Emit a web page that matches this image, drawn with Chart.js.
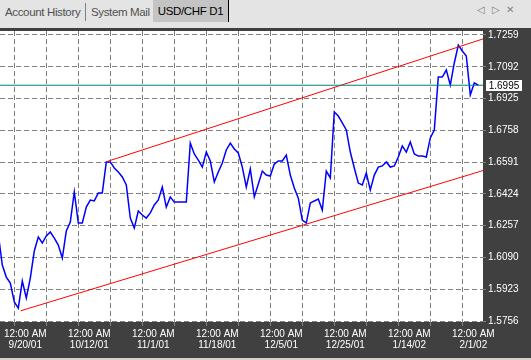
<!DOCTYPE html>
<html><head><meta charset="utf-8">
<script src="https://cdn.jsdelivr.net/npm/chart.js@4.4.0/dist/chart.umd.min.js"></script>
<style>
html,body{margin:0;padding:0;background:#d4d0c8;width:531px;height:360px;overflow:hidden;font-family:"Liberation Sans",Arial,sans-serif;}
#tabs{position:absolute;left:0;top:0;width:531px;height:28px;background:#e4e4e4;}
.tab{position:absolute;top:2px;height:20px;line-height:20px;font-size:11.5px;letter-spacing:-0.35px;color:#505050;white-space:nowrap;}
#t1{left:5px;}
#sep{position:absolute;left:85px;top:3px;width:1px;height:18px;background:#808080;}
#t2{left:91px;}
#t3{left:153px;width:75px;top:0px;height:22px;line-height:22px;background:#c4c4c4;color:#000;text-align:center;border-right:1px solid #000;}
.ctl{position:absolute;top:4px;font-family:"DejaVu Sans",sans-serif;font-size:10px;color:#808080;}
#wrap{position:absolute;left:0;top:28px;width:531px;height:330px;}
</style></head><body>
<div id="tabs">
  <div class="tab" id="t1">Account History</div>
  <div id="sep"></div>
  <div class="tab" id="t2">System Mail</div>
  <div class="tab" id="t3">USD/CHF D1</div>
  <div class="ctl" style="left:477px">◁</div>
  <div class="ctl" style="left:492px">▷</div>
  <div class="ctl" style="left:506px">✕</div>
</div>
<div id="wrap"><canvas id="c" width="531" height="330"></canvas></div>
<script>
// Daily closes, USD/CHF D1 (bar 0 is just left of the visible window)
const closes = [
  1.6213,
  1.6050, 1.5987, 1.5956, 1.5856, 1.5824, 1.5966, 1.5877, 1.5982, 1.6124, 1.6198,
  1.6166, 1.6203, 1.6224, 1.6192, 1.6155, 1.6087, 1.6229, 1.6276, 1.6434, 1.6271,
  1.6271, 1.6355, 1.6392, 1.6387, 1.6429, 1.6429, 1.6592, 1.6592, 1.6560, 1.6539,
  1.6513, 1.6471, 1.6297, 1.6245, 1.6334, 1.6313, 1.6297, 1.6324, 1.6366, 1.6392,
  1.6460, 1.6355, 1.6408, 1.6381, 1.6381, 1.6381, 1.6381, 1.6691, 1.6634, 1.6602,
  1.6565, 1.6644, 1.6597, 1.6487, 1.6539, 1.6586, 1.6655, 1.6691, 1.6660, 1.6639,
  1.6565, 1.6460, 1.6555, 1.6408, 1.6476, 1.6544, 1.6523, 1.6518, 1.6581, 1.6597,
  1.6597, 1.6628, 1.6523, 1.6455, 1.6402, 1.6287, 1.6271, 1.6376, 1.6387, 1.6397,
  1.6339, 1.6544, 1.6508, 1.6854, 1.6833, 1.6797, 1.6760, 1.6644, 1.6560, 1.6481,
  1.6471, 1.6534, 1.6445, 1.6523, 1.6565, 1.6571, 1.6592, 1.6565, 1.6571, 1.6618,
  1.6676, 1.6644, 1.6697, 1.6634, 1.6623, 1.6623, 1.6618, 1.6718, 1.6760, 1.7038,
  1.7038, 1.7075, 1.6996, 1.7112, 1.7206, 1.7175, 1.7149, 1.6944, 1.7007, 1.6995
];
const gridBars = [4, 12, 20, 28, 36, 44, 52, 60, 68, 76, 84, 92, 100, 108, 116];
const labelBars = [4, 20, 36, 52, 68, 84, 100, 116];
const timeLabels = ['9/20/01', '10/12/01', '11/1/01', '11/18/01', '12/5/01', '12/25/01', '1/14/02', '2/1/02'];
const timeOfDay = '12:00 AM';
const priceTicks = [1.5756, 1.5923, 1.6090, 1.6257, 1.6424, 1.6591, 1.6758, 1.6925, 1.7092, 1.7259];
const currentPrice = 1.6995;
const upperChannelBars = [27, 122];
const upperChannelPrices = [1.6593, 1.7244];
const lowerChannelBars = [5.6, 122];
const lowerChannelPrices = [1.5810, 1.6552];

const xMin = 0.425, xMax = 121.175;
const yMin = 1.5751, yMax = 1.7280;
const FONT = "'Liberation Sans',Arial,sans-serif";

const bgPlugin = {
  id: 'bg',
  beforeDraw(chart) {
    const {ctx, chartArea: a} = chart;
    ctx.save();
    ctx.fillStyle = '#404040';
    ctx.fillRect(0, 0, chart.width, chart.height);
    ctx.fillStyle = '#ffffff';
    ctx.fillRect(a.left, a.top, a.right - a.left, a.bottom - a.top);
    ctx.restore();
  },
  afterDraw(chart) {
    const {ctx, chartArea: a} = chart;
    const py = Math.round(chart.scales.y.getPixelForValue(currentPrice));
    ctx.save();
    ctx.fillStyle = '#ffffff';
    ctx.fillRect(a.right + 3, py - 5, 36, 11);
    ctx.fillStyle = '#000000';
    ctx.font = "10px " + FONT;
    ctx.textAlign = 'center';
    ctx.textBaseline = 'middle';
    ctx.fillText(currentPrice.toFixed(4), a.right + 21, py + 1);
    ctx.restore();
  }
};

new Chart(document.getElementById('c'), {
  type: 'line',
  data: {
    datasets: [
      { data: [{x: xMin, y: currentPrice}, {x: xMax, y: currentPrice}], borderColor: '#008080', borderWidth: 1, pointRadius: 0 },
      { data: upperChannelBars.map((b, i) => ({x: b, y: upperChannelPrices[i]})), borderColor: '#ff0000', borderWidth: 1, pointRadius: 0 },
      { data: lowerChannelBars.map((b, i) => ({x: b, y: lowerChannelPrices[i]})), borderColor: '#ff0000', borderWidth: 1, pointRadius: 0 },
      { data: closes.map((c, i) => ({x: i, y: c})), borderColor: '#0000ff', borderWidth: 1.5, pointRadius: 0, tension: 0 }
    ]
  },
  options: {
    responsive: false, animation: false, devicePixelRatio: 1,
    layout: { padding: { top: 3, left: 0, right: 0, bottom: 0 } },
    plugins: { legend: { display: false }, tooltip: { enabled: false } },
    scales: {
      x: {
        type: 'linear', position: 'bottom', min: xMin, max: xMax,
        afterBuildTicks: s => { s.ticks = gridBars.map(v => ({ value: v })); },
        afterFit: s => { s.height = 36; s.paddingLeft = 0; s.paddingRight = 0; },
        ticks: {
          autoSkip: false, maxRotation: 0, minRotation: 0, color: '#ffffff', padding: 2, labelOffset: 11,
          font: { family: FONT, size: 10, lineHeight: 1.15 },
          callback: v => { const k = labelBars.indexOf(v); return k < 0 ? '' : [timeOfDay, timeLabels[k]]; }
        },
        grid: { color: '#808080', lineWidth: 1, tickLength: 4, tickColor: '#808080' },
        border: { display: false, dash: [5, 3] }
      },
      y: {
        position: 'right', min: yMin, max: yMax,
        afterBuildTicks: s => { s.ticks = priceTicks.map(v => ({ value: v })); },
        afterFit: s => { s.width = 48; s.paddingTop = 0; s.paddingBottom = 0; },
        ticks: { color: '#ffffff', padding: 2, font: { family: FONT, size: 10 }, callback: v => v.toFixed(4) },
        grid: { color: '#808080', lineWidth: 1, tickLength: 3, tickColor: '#808080' },
        border: { display: false, dash: [5, 3] }
      }
    }
  },
  plugins: [bgPlugin]
});
</script>
</body></html>
